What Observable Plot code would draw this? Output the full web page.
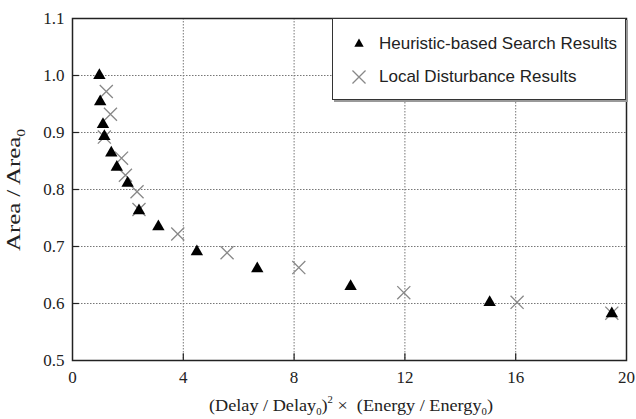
<!DOCTYPE html>
<html><head><meta charset="utf-8">
<script src="https://cdn.jsdelivr.net/npm/d3@7"></script>
<script src="https://cdn.jsdelivr.net/npm/@observablehq/plot@0.6"></script>
<style>
body{margin:0;background:#fff;}
#wrap{position:relative;width:636px;height:419px;overflow:hidden;background:#fff;}
#legend{position:absolute;left:332px;top:18px;width:292px;height:80px;background:#fff;border:1px solid #333;box-shadow:2px 2px 0 #999;font-family:"Liberation Sans",Arial,sans-serif;font-size:17px;color:#222;}
.row{position:absolute;left:0;height:20px;}
.row svg{position:absolute;left:16px;top:0;}
.row span{position:absolute;left:46px;white-space:nowrap;line-height:20px;top:0;}
</style></head>
<body><div id="wrap"></div>
<script>
// Data
const heurX = [0.97, 1.0, 1.1, 1.15, 1.4, 1.6, 1.99, 2.4, 3.1, 4.49, 6.67, 10.04, 15.06, 19.47];
const heurY = [1.00, 0.954, 0.914, 0.893, 0.864, 0.839, 0.811, 0.763, 0.735, 0.691, 0.661, 0.630, 0.602, 0.582];
const distX = [1.22, 1.37, 1.15, 1.77, 1.91, 2.33, 2.4, 3.8, 5.58, 8.17, 11.96, 16.05, 19.47];
const distY = [0.972, 0.932, 0.892, 0.855, 0.825, 0.796, 0.765, 0.722, 0.689, 0.663, 0.619, 0.602, 0.583];
const xTicks = [0, 4, 8, 12, 16, 20];
const yTicks = [0.5, 0.6, 0.7, 0.8, 0.9, 1.0, 1.1];
const xGrid = [4, 8, 12, 16];
const yGrid = [0.6, 0.7, 0.8, 0.9, 1.0];
const seriesNames = ["Heuristic-based Search Results", "Local Disturbance Results"];

const heur = heurX.map((x, i) => ({x, y: heurY[i]}));
const dist = distX.map((x, i) => ({x, y: distY[i]}));

const serif = "'Liberation Serif','Times New Roman',serif";
const chart = Plot.plot({
  width: 636, height: 419,
  marginLeft: 72, marginRight: 10, marginTop: 18, marginBottom: 59,
  style: {fontFamily: serif, fontSize: "17px", color: "#222", background: "#fff"},
  x: {domain: [0, 20]},
  y: {domain: [0.5, 1.1]},
  marks: [
    Plot.gridX(xGrid, {stroke: "#777", strokeOpacity: 1, strokeDasharray: "1.5,1.5"}),
    Plot.gridY(yGrid, {stroke: "#777", strokeOpacity: 1, strokeDasharray: "1.5,1.5"}),
    Plot.ruleY(yGrid, {y: d => d, x1: 0, x2: 0.25, stroke: "#222", strokeWidth: 1.2}),
    Plot.ruleX(xGrid, {x: d => d, y1: 0.5, y2: 0.512, stroke: "#222", strokeWidth: 1.2}),
    Plot.axisX({ticks: xTicks, tickFormat: d => d3.format("d")(d), tickSize: 0, tickPadding: 10, label: null, fontSize: 17, fontFamily: serif, fill: "#222"}),
    Plot.axisY({ticks: yTicks, tickFormat: d => d3.format(".1f")(d), tickSize: 0, tickPadding: 8, label: null, fontSize: 17, fontFamily: serif, fill: "#222"}),
    Plot.dot(dist, {x: "x", y: "y", symbol: "times", r: 6, stroke: "#888", strokeWidth: 1.3}),
    Plot.dot(heur, {x: "x", y: "y", symbol: "triangle", r: 4.6, fill: "#000", stroke: "none"}),
    Plot.frame({stroke: "#222", strokeWidth: 1.5})
  ]
});
const wrap = document.getElementById("wrap");
wrap.appendChild(chart);

// Axis titles with sub/superscripts as real text
const svg = d3.select(chart);
const yl = svg.append("text")
  .attr("transform", "translate(20,190) rotate(-90)")
  .attr("text-anchor", "middle").attr("font-family", serif).attr("font-size", 19).attr("fill", "#222")
  .attr("textLength", 122).attr("lengthAdjust", "spacingAndGlyphs");
yl.append("tspan").text("Area / Area");
yl.append("tspan").attr("font-size", 12).attr("dy", 5).text("0");

const xl = svg.append("text")
  .attr("x", 351).attr("y", 411)
  .attr("text-anchor", "middle").attr("font-family", serif).attr("font-size", 17).attr("fill", "#222")
  .attr("textLength", 284).attr("lengthAdjust", "spacingAndGlyphs");
xl.append("tspan").text("(Delay / Delay");
xl.append("tspan").attr("font-size", 10).attr("dy", 4).text("0");
xl.append("tspan").attr("dy", -4).text(")");
xl.append("tspan").attr("font-size", 10).attr("dy", -8).text("2");
xl.append("tspan").attr("dy", 8).text(" \u00d7  (Energy / Energy");
xl.append("tspan").attr("font-size", 10).attr("dy", 4).text("0");
xl.append("tspan").attr("dy", -4).text(")");

// Legend
const legend = document.createElement("div");
legend.id = "legend";
const tri = d3.symbol(d3.symbolTriangle2, Math.PI * 20)();
const tim = d3.symbol(d3.symbolTimes, Math.PI * 36)();
legend.innerHTML = `
  <div class="row" style="top:15px"><svg width="20" height="20"><path d="${tri}" transform="translate(10,10)" fill="#000"/></svg><span>${seriesNames[0]}</span></div>
  <div class="row" style="top:48px"><svg width="20" height="20"><path d="${tim}" transform="translate(10,10)" fill="none" stroke="#888" stroke-width="1.3"/></svg><span>${seriesNames[1]}</span></div>`;
wrap.appendChild(legend);
</script></body></html>
